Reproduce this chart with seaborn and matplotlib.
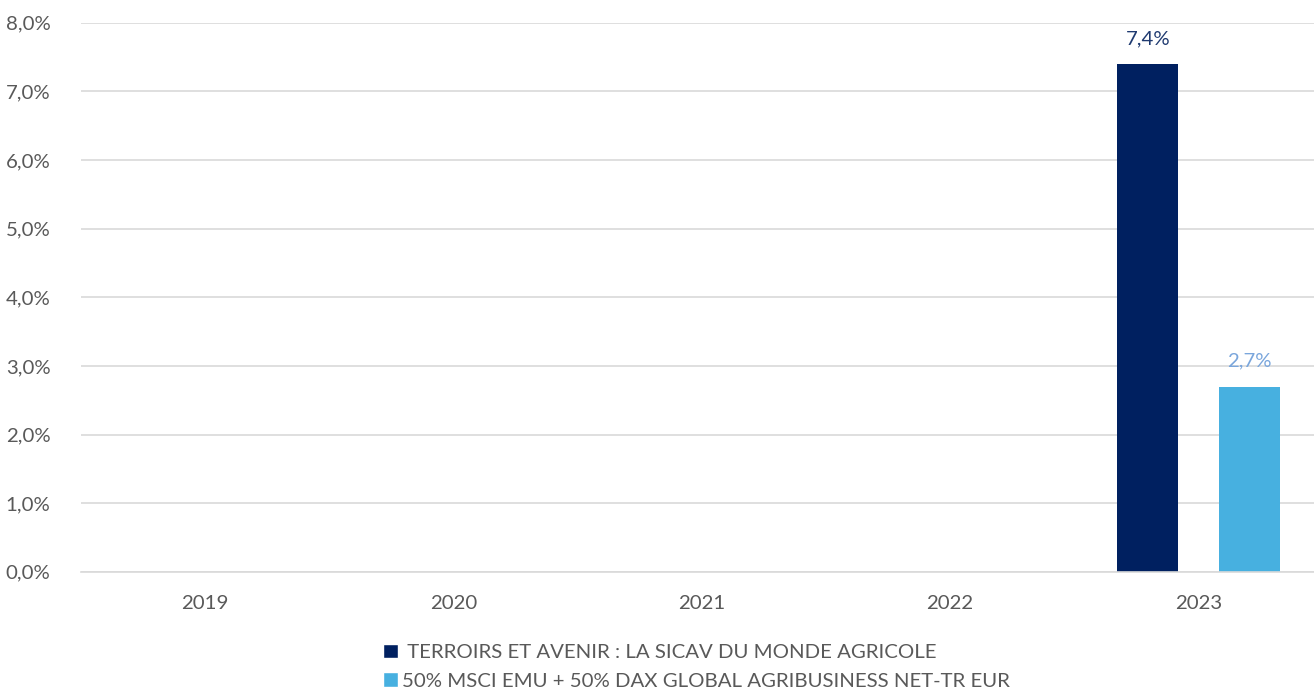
import numpy as np
import pandas as pd
import matplotlib
matplotlib.use("Agg")
import matplotlib.pyplot as plt
import seaborn as sns
from matplotlib.patches import Patch
from matplotlib.ticker import FuncFormatter

# Data
years = ["2019", "2020", "2021", "2022", "2023"]
fund_name = " TERROIRS ET AVENIR : LA SICAV DU MONDE AGRICOLE"
bench_name = "50% MSCI EMU + 50% DAX GLOBAL AGRIBUSINESS NET-TR EUR"
fund_values = [np.nan, np.nan, np.nan, np.nan, 7.4]
bench_values = [np.nan, np.nan, np.nan, np.nan, 2.7]

FUND_COLOR = "#002060"
BENCH_COLOR = "#47B0E0"
FUND_LABEL_COLOR = "#1F3A70"
BENCH_LABEL_COLOR = "#7AA6DC"
TEXT_COLOR = "#595959"
FS = 14.7

df = pd.DataFrame({
    "year": years * 2,
    "series": [fund_name] * len(years) + [bench_name] * len(years),
    "value": fund_values + bench_values,
})

sns.set_theme(style="white")
plt.rcParams["font.family"] = ["Lato", "DejaVu Sans"]

fig = plt.figure(figsize=(13.14, 6.89), dpi=100)
ax = fig.add_axes([0.0616, 0.17, 0.945, 0.797])

sns.barplot(data=df, x="year", y="value", hue="series", order=years,
            hue_order=[fund_name, bench_name],
            palette=[FUND_COLOR, BENCH_COLOR], width=0.816, gap=0.40,
            saturation=1, linewidth=0, legend=False, ax=ax)

ax.set_xlim(-0.5, 4.5)
ax.set_ylim(0, 8)
ax.set_yticks(np.arange(0, 9, 1))
ax.yaxis.set_major_formatter(FuncFormatter(lambda v, _: f"{v:.1f}%".replace(".", ",")))
ax.grid(axis="y", color="#D9D9D9", linewidth=1.2)
ax.set_axisbelow(True)
ax.set_xlabel("")
ax.set_ylabel("")
for side in ["left", "right", "top"]:
    ax.spines[side].set_visible(False)
ax.spines["bottom"].set_color("#D9D9D9")
ax.spines["bottom"].set_linewidth(1.2)
ax.tick_params(axis="both", length=0, labelsize=FS, colors=TEXT_COLOR)
ax.tick_params(axis="y", pad=22)
ax.tick_params(axis="x", pad=17)

# Data labels on the bars that have values
label_colors = [FUND_LABEL_COLOR, BENCH_LABEL_COLOR]
for container, col in zip(ax.containers, label_colors):
    labels = ["" if np.isnan(v) else f"{v:.1f}%".replace(".", ",") for v in container.datavalues]
    ax.bar_label(container, labels=labels, padding=12, fontsize=FS, color=col)

handles = [Patch(facecolor=FUND_COLOR, label=fund_name),
           Patch(facecolor=BENCH_COLOR, label=bench_name)]
fig.legend(handles=handles, loc="upper left", bbox_to_anchor=(383 / 1314, 0.066),
           frameon=False, fontsize=FS, handlelength=0.75, handleheight=0.75,
           handletextpad=0.2, labelspacing=0.55, labelcolor=TEXT_COLOR,
           borderpad=0, borderaxespad=0)

fig.savefig("out.png", dpi=100)
